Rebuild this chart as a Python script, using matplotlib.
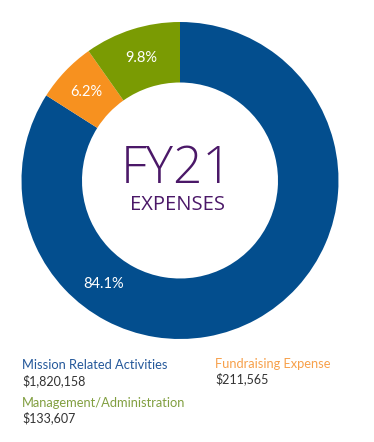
import matplotlib
matplotlib.use("Agg")
import matplotlib.pyplot as plt
import numpy as np

# data
categories = ["Mission Related Activities", "Fundraising Expense", "Management/Administration"]
pct_values = [84.1, 6.2, 9.8]           # wedge shares as shown on the chart
pct_labels = ["84.1%", "6.2%", "9.8%"]
amounts = ["$1,820,158", "$211,565", "$133,607"]
wedge_colors = ["#034E8E", "#F7911F", "#7A9B03"]
legend_colors = ["#24589A", "#F7A04A", "#819F40"]

W, H = 374, 442
fig = plt.figure(figsize=(W / 100, H / 100), dpi=100)
ax = fig.add_axes([0, 0, 1, 1])

cx, cy = 180, H - 180.5
R = 158.5
r_in = 98
wedges, _ = ax.pie(pct_values, colors=wedge_colors, startangle=90, counterclock=False,
                   center=(cx, cy), radius=R, frame=True,
                   wedgeprops=dict(width=R - r_in, linewidth=0))
ax.set_xlim(0, W)
ax.set_ylim(0, H)
ax.set_aspect("equal")
ax.axis("off")

font = "Lato"
# percentage labels
label_angles = []
for w in wedges:
    label_angles.append((w.theta1 + w.theta2) / 2)
label_angles[0] = 233.7
for ang, txt in zip(label_angles, pct_labels):
    a = np.deg2rad(ang)
    rr = 129
    ax.text(cx + rr * np.cos(a), cy + rr * np.sin(a), txt, color="white",
            fontsize=10.5, family=font, ha="center", va="center")

purple = "#4B1868"
ax.text(177, H - 169.5, "FY21", color=purple, fontsize=37, family="Open Sans",
        fontweight="light", ha="center", va="center")
ax.text(178, H - 205, "EXPENSES", color=purple, fontsize=14.5, family="Open Sans",
        fontweight="normal", ha="center", va="center")

# legend-like text blocks
pos = [(22, 365, 381), (215, 364, 379), (22, 403, 418)]
for (x, y1, y2), name, amt, c in zip(pos, categories, amounts, legend_colors):
    ax.text(x, H - y1, name, color=c, fontsize=9.3, family=font, ha="left", va="center")
    ax.text(x, H - y2, amt, color="#333333", fontsize=9, family=font, ha="left", va="center")

fig.savefig("out.png", dpi=100)
